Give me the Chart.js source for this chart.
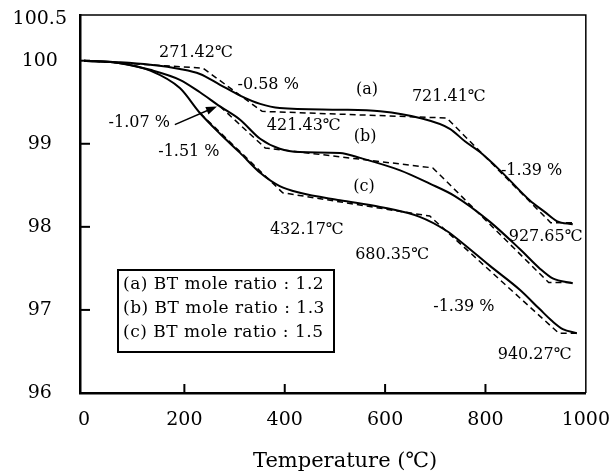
<!DOCTYPE html>
<html>
<head>
<meta charset="utf-8">
<script src="https://cdn.jsdelivr.net/npm/chart.js@4.4.1/dist/chart.umd.min.js"></script>
<style>
  html, body { margin: 0; padding: 0; background: #fff; }
  #wrap { width: 613px; height: 474px; }
</style>
</head>
<body>
<div id="wrap"><canvas id="tga" width="613" height="474"></canvas></div>
<script>
// TGA curves: temperature (C) vs remaining weight (%)
const seriesNames = ["(a) BT mole ratio : 1.2", "(b) BT mole ratio : 1.3", "(c) BT mole ratio : 1.5"];

const tempA = [0, 72, 132, 191, 231, 271, 311, 351, 390, 510, 590, 669, 729, 759, 789, 829, 888, 918, 942, 974];
const weightA = [100.0, 99.98, 99.95, 99.90, 99.84, 99.71, 99.58, 99.48, 99.43, 99.41, 99.39, 99.31, 99.18, 99.03, 98.90, 98.68, 98.32, 98.18, 98.07, 98.03];

const tempB = [0, 72, 132, 191, 231, 271, 311, 351, 390, 430, 510, 550, 630, 689, 739, 809, 869, 908, 934, 974];
const weightB = [100.0, 99.97, 99.89, 99.77, 99.62, 99.45, 99.29, 99.06, 98.94, 98.90, 98.89, 98.83, 98.68, 98.52, 98.37, 98.06, 97.73, 97.50, 97.38, 97.32];

const tempC = [0, 72, 132, 191, 231, 271, 311, 351, 390, 430, 510, 590, 669, 723, 749, 809, 869, 908, 934, 954, 982];
const weightC = [100.0, 99.97, 99.88, 99.67, 99.37, 99.12, 98.89, 98.65, 98.49, 98.41, 98.32, 98.24, 98.12, 97.95, 97.83, 97.53, 97.24, 97.01, 96.86, 96.77, 96.72];

// tangent construction lines (dashed)
const fitTempA = [0, 237, 355, 723, 930, 974];
const fitWeightA = [100.0, 99.91, 99.39, 99.31, 98.05, 98.05];
const fitTempB = [271, 361, 695, 926, 974];
const fitWeightB = [99.45, 98.95, 98.71, 97.33, 97.33];
const fitTempC = [231, 396, 689, 946, 982];
const fitWeightC = [99.37, 98.41, 98.13, 96.72, 96.72];

const xTicks = [0, 200, 400, 600, 800, 1000];
const yTicks = [96, 97, 98, 99, 100, 100.5];

// annotations, placed at data coordinates
const noteText = ["271.42℃", "-0.58 %", "(a)", "721.41℃", "-1.07 %", "421.43℃", "(b)", "-1.51 %", "-1.39 %", "(c)", "432.17℃", "927.65℃", "680.35℃", "-1.39 %", "940.27℃"];
const noteTemp = [223, 367, 564, 727, 110, 438, 560, 209, 892, 558, 444, 920, 614, 757, 898];
const noteWeight = [100.09, 99.71, 99.65, 99.56, 99.25, 99.21, 99.08, 98.90, 98.68, 98.48, 97.96, 97.88, 97.66, 97.04, 96.46];

const arrowTemp = [181, 265];
const arrowWeight = [99.23, 99.45];

const axisTitle = "Temperature (℃)";

function toPoints(t, w) {
  return t.map((x, i) => ({ x: x, y: w[i] }));
}

const serif = "'DejaVu Serif', 'Liberation Serif', serif";

const extras = {
  id: "extras",
  afterDraw(chart) {
    const ctx = chart.ctx;
    const area = chart.chartArea;
    const xs = chart.scales.x;
    const ys = chart.scales.y;
    ctx.save();
    ctx.strokeStyle = "#000";
    ctx.fillStyle = "#000";

    // thin frame on top and right
    ctx.lineWidth = 1.5;
    ctx.beginPath();
    ctx.moveTo(area.left, area.top);
    ctx.lineTo(area.right, area.top);
    ctx.lineTo(area.right, area.bottom);
    ctx.stroke();

    // inward tick marks
    ctx.lineWidth = 2;
    xTicks.slice(1, -1).forEach((v) => {
      const px = xs.getPixelForValue(v);
      ctx.beginPath();
      ctx.moveTo(px, area.bottom);
      ctx.lineTo(px, area.bottom - 9);
      ctx.stroke();
    });
    yTicks.slice(1, -1).forEach((v) => {
      const py = ys.getPixelForValue(v);
      ctx.beginPath();
      ctx.moveTo(area.left, py);
      ctx.lineTo(area.left + 10, py);
      ctx.stroke();
    });

    // annotations
    ctx.font = "16px " + serif;
    ctx.textAlign = "center";
    ctx.textBaseline = "middle";
    noteText.forEach((txt, i) => {
      ctx.fillText(txt, xs.getPixelForValue(noteTemp[i]), ys.getPixelForValue(noteWeight[i]));
    });

    // arrow
    const x0 = xs.getPixelForValue(arrowTemp[0]);
    const y0 = ys.getPixelForValue(arrowWeight[0]);
    const x1 = xs.getPixelForValue(arrowTemp[1]);
    const y1 = ys.getPixelForValue(arrowWeight[1]);
    const ang = Math.atan2(y1 - y0, x1 - x0);
    ctx.lineWidth = 1.5;
    ctx.beginPath();
    ctx.moveTo(x0, y0);
    ctx.lineTo(x1 - 6 * Math.cos(ang), y1 - 6 * Math.sin(ang));
    ctx.stroke();
    ctx.beginPath();
    ctx.moveTo(x1, y1);
    ctx.lineTo(x1 - 11 * Math.cos(ang) + 4 * Math.sin(ang), y1 - 11 * Math.sin(ang) - 4 * Math.cos(ang));
    ctx.lineTo(x1 - 11 * Math.cos(ang) - 4 * Math.sin(ang), y1 - 11 * Math.sin(ang) + 4 * Math.cos(ang));
    ctx.closePath();
    ctx.fill();

    // legend box
    const bx = area.left + 38;
    const by = 270;
    ctx.lineWidth = 2;
    ctx.strokeRect(bx, by, 216, 82);
    ctx.font = "17px " + serif;
    ctx.textAlign = "left";
    ctx.letterSpacing = "0.5px";
    seriesNames.forEach((name, i) => {
      ctx.fillText(name, bx + 5, by + 15 + i * 24);
    });

    // x axis title
    ctx.letterSpacing = "0px";
    ctx.font = "21px " + serif;
    ctx.fillText(axisTitle, area.left + 173, 462);
    ctx.restore();
  }
};

const solidStyle = { borderColor: "#000", borderWidth: 2, pointRadius: 0, fill: false, cubicInterpolationMode: "monotone" };
const dashStyle = { borderColor: "#000", borderWidth: 1.5, borderDash: [6, 4], pointRadius: 0, fill: false, tension: 0 };

new Chart(document.getElementById("tga"), {
  type: "line",
  data: {
    datasets: [
      Object.assign({ label: seriesNames[0], data: toPoints(tempA, weightA) }, solidStyle),
      Object.assign({ label: seriesNames[1], data: toPoints(tempB, weightB) }, solidStyle),
      Object.assign({ label: seriesNames[2], data: toPoints(tempC, weightC) }, solidStyle),
      Object.assign({ label: "fit a", data: toPoints(fitTempA, fitWeightA) }, dashStyle),
      Object.assign({ label: "fit b", data: toPoints(fitTempB, fitWeightB) }, dashStyle),
      Object.assign({ label: "fit c", data: toPoints(fitTempC, fitWeightC) }, dashStyle),
    ],
  },
  options: {
    responsive: false,
    animation: false,
    layout: { padding: { left: 0, top: 15, right: 27, bottom: 0 } },
    plugins: { legend: { display: false }, tooltip: { enabled: false } },
    scales: {
      x: {
        type: "linear",
        min: -8,
        max: 1000,
        afterBuildTicks: (s) => { s.ticks = xTicks.map((v) => ({ value: v })); },
        afterFit: (s) => { s.height = 81; },
        grid: { display: false, drawTicks: true, tickLength: 13 },
        border: { display: true, color: "#000", width: 2.5 },
        ticks: { color: "#000", font: { family: serif, size: 19 }, padding: 3, maxRotation: 0, autoSkip: false, callback: (v) => String(v) },
      },
      y: {
        type: "linear",
        min: 96,
        max: 100.55,
        afterBuildTicks: (s) => { s.ticks = yTicks.map((v) => ({ value: v })); },
        afterFit: (s) => { s.width = 80; },
        grid: { display: false, drawTicks: true, tickLength: 10 },
        border: { display: true, color: "#000", width: 2.5 },
        ticks: { color: "#000", font: { family: serif, size: 19 }, padding: 3, crossAlign: "center", autoSkip: false, callback: (v) => String(v) },
      },
    },
  },
  plugins: [extras],
});
</script>
</body>
</html>
